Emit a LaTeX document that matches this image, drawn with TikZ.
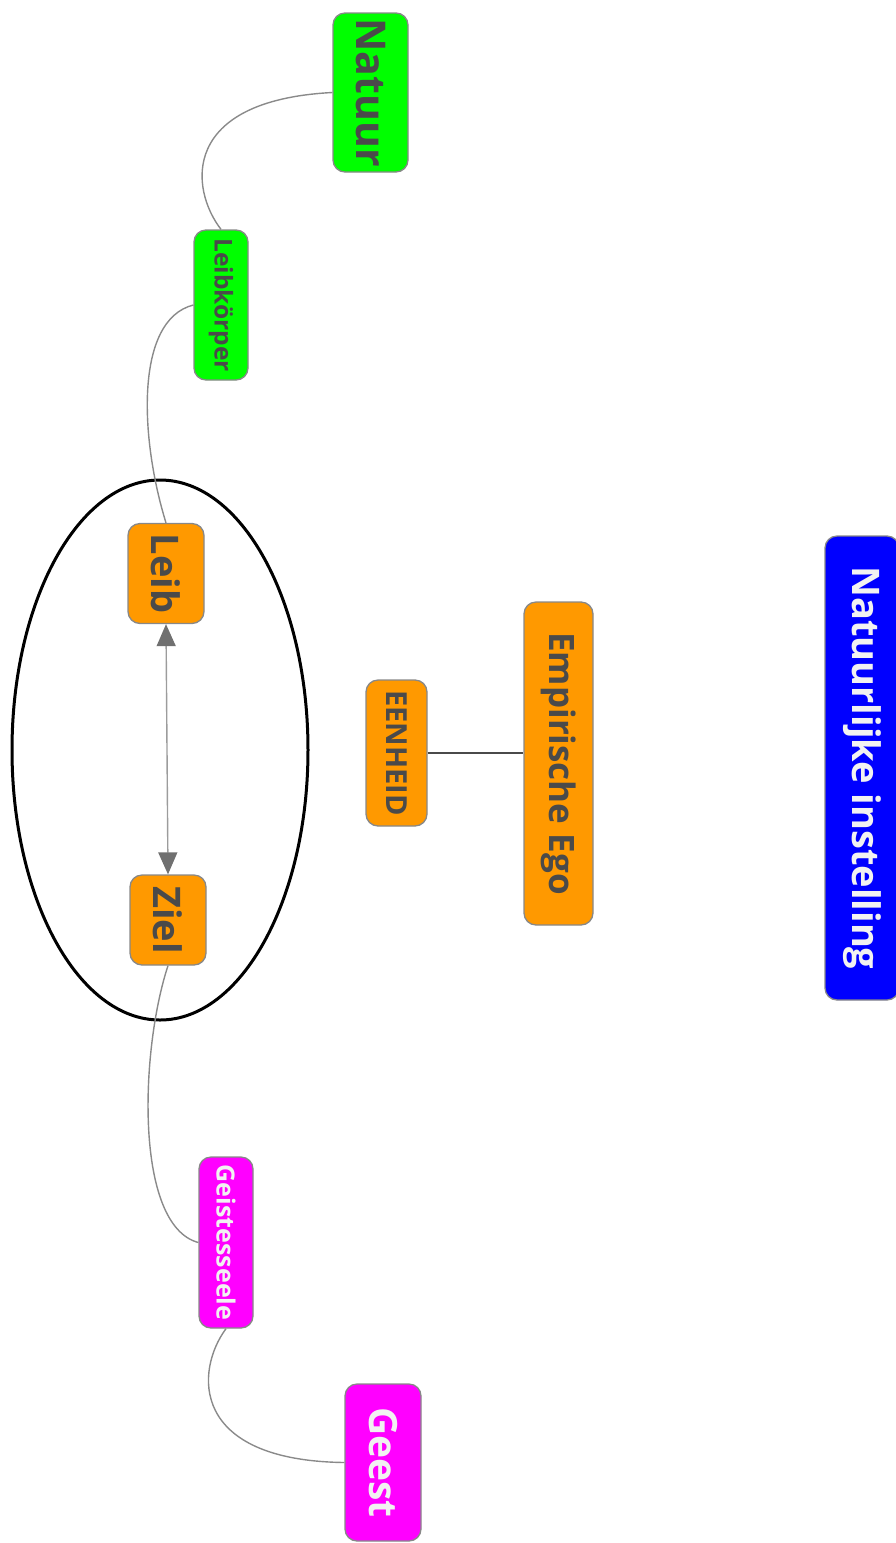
\documentclass[tikz,border=0pt]{standalone}
\usepackage{fontspec}
\setmainfont{Open Sans}
\usetikzlibrary{arrows.meta,shapes.geometric}
\definecolor{boxborder}{HTML}{888888}
\definecolor{txtdark}{HTML}{4A4A4A}
\definecolor{txtlight}{HTML}{F2F2F2}
\definecolor{cgreen}{HTML}{00FF00}
\definecolor{corange}{HTML}{FF9900}
\definecolor{cmagenta}{HTML}{FF00FF}
\definecolor{cblue}{HTML}{0000FF}
\definecolor{conncol}{HTML}{8A8A8A}
\definecolor{arrowcol}{HTML}{707070}
\newcommand{\vtext}[2]{\rotatebox{-90}{\fontsize{#1}{#1}\selectfont\bfseries #2}}
\tikzset{
  box/.style={draw=boxborder, line width=1.3pt, rounded corners=12pt, inner sep=0pt, text=txtdark},
  conn/.style={draw=conncol, line width=1.4pt},
  link/.style={draw=txtdark, line width=1.2pt},
  dbl/.style={draw=conncol!85, line width=1.4pt, {Triangle[width=19pt,length=22pt,fill=arrowcol,color=arrowcol]}-{Triangle[width=19pt,length=22pt,fill=arrowcol,color=arrowcol]}},
}
\begin{document}
\begin{tikzpicture}[x=1pt,y=-1pt]
\useasboundingbox (0,0) rectangle (895,1543);
% ellipse
\node[ellipse, draw=black, line width=3pt, minimum width=296pt, minimum height=540pt, inner sep=0pt] (oval) at (160,750) {};
% nodes
\node[box, fill=cgreen, minimum width=75pt, minimum height=159pt] (natuur) at (370.5,92.5) {\vtext{41}{Natuur}};
\node[box, fill=cgreen, minimum width=54pt, minimum height=150pt] (leibk) at (221,305) {\vtext{24.5}{Leibkörper}};
\node[box, fill=corange, minimum width=76pt, minimum height=100pt] (leib) at (166,573.5) {\vtext{38}{Leib}};
\node[box, fill=corange, minimum width=76pt, minimum height=90pt] (ziel) at (168,920) {\vtext{38}{Ziel}};
\node[box, fill=corange, minimum width=61pt, minimum height=146pt] (eenheid) at (396.5,753) {\vtext{29}{EENHEID}};
\node[box, fill=corange, minimum width=69pt, minimum height=323pt] (emp) at (558.5,763.5) {\vtext{35}{Empirische Ego}};
\node[box, fill=cmagenta, text=txtlight, minimum width=54pt, minimum height=171pt] (geistes) at (226,1242.5) {\vtext{25}{Geistesseele}};
\node[box, fill=cmagenta, text=txtlight, minimum width=76pt, minimum height=157pt] (geest) at (383,1462.5) {\vtext{39}{Geest}};
\node[box, fill=cblue, text=txtlight, minimum width=74pt, minimum height=464pt] (natinst) at (862,768) {\vtext{38}{Natuurlijke instelling}};
% connectors
\draw[conn] (natuur.west) .. controls +(-153,8) and +(-31,-40) .. (leibk.north);
\draw[conn] (leibk.west) .. controls +(-59,15) and +(-26,-84) .. (leib.north);
\draw[conn] (ziel.south) .. controls +(-28,85) and +(-64,-17) .. (geistes.west);
\draw[conn] (geistes.south) .. controls +(-31,42) and +(-155,-2) .. (geest.west);
\draw[dbl] (leib.south) -- (ziel.north);
\draw[link] (eenheid.east) -- (eenheid.east -| emp.west);
\end{tikzpicture}
\end{document}
